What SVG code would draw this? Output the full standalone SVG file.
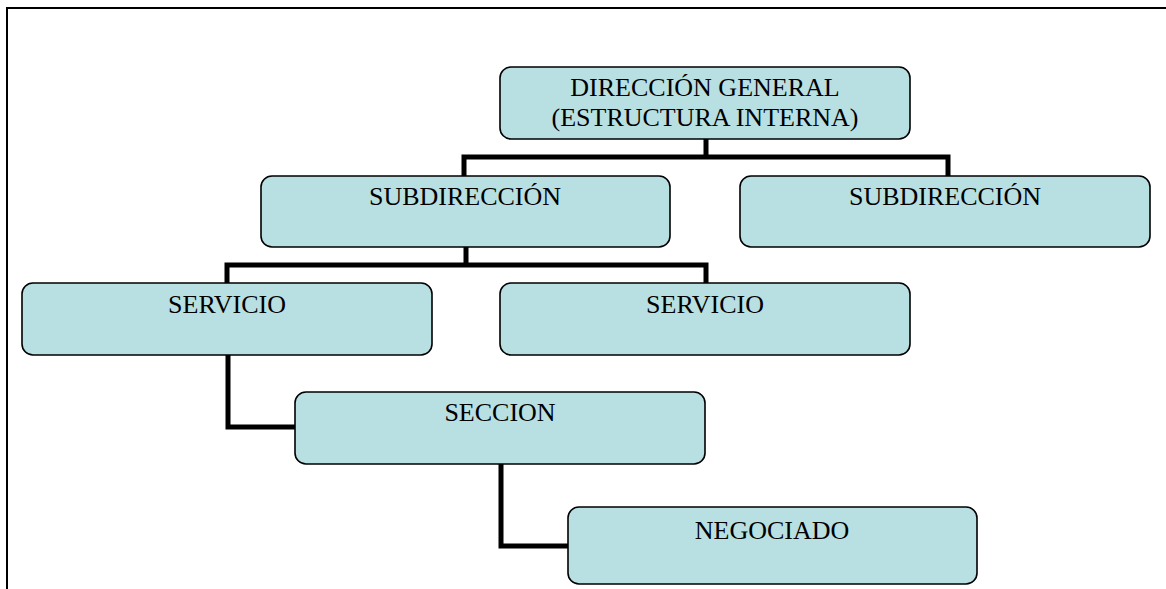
<svg xmlns="http://www.w3.org/2000/svg" width="1166" height="589" viewBox="0 0 1166 589">
<style>
.box{fill:#b8dfe2;stroke:#000;stroke-width:1.6}
.lbl{font-family:"Liberation Serif","Times New Roman",serif;font-size:26px;fill:#000;text-anchor:middle}
.conn{fill:none;stroke:#000;stroke-width:5;stroke-linejoin:miter}
</style>
<rect x="7" y="8" width="1180" height="600" fill="#fff" stroke="#000" stroke-width="2"/>
<g id="connectors">
<path class="conn" d="M706,139 V157 M464,176 V157 H948 V176"/>
<path class="conn" d="M466,246 V265 M227,283 V265 H706 V283"/>
<path class="conn" d="M228,355 V427 H295"/>
<path class="conn" d="M501,464 V546 H568"/>
</g>
<g id="direccion-general">
<rect class="box" x="500" y="67" width="410" height="72" rx="11"/>
<text class="lbl" x="705" y="96">DIRECCIÓN GENERAL</text>
<text class="lbl" x="705" y="126">(ESTRUCTURA INTERNA)</text>
</g>
<g id="subdireccion-1">
<rect class="box" x="261" y="176" width="409" height="71" rx="11"/>
<text class="lbl" x="465" y="205">SUBDIRECCIÓN</text>
</g>
<g id="subdireccion-2">
<rect class="box" x="740" y="176" width="410" height="71" rx="11"/>
<text class="lbl" x="945" y="205">SUBDIRECCIÓN</text>
</g>
<g id="servicio-1">
<rect class="box" x="22" y="283" width="410" height="72" rx="11"/>
<text class="lbl" x="227" y="313">SERVICIO</text>
</g>
<g id="servicio-2">
<rect class="box" x="500" y="283" width="410" height="72" rx="11"/>
<text class="lbl" x="705" y="313">SERVICIO</text>
</g>
<g id="seccion">
<rect class="box" x="295" y="392" width="410" height="72" rx="11"/>
<text class="lbl" x="500" y="421">SECCION</text>
</g>
<g id="negociado">
<rect class="box" x="568" y="507" width="409" height="77" rx="11"/>
<text class="lbl" x="772" y="539">NEGOCIADO</text>
</g>
</svg>
